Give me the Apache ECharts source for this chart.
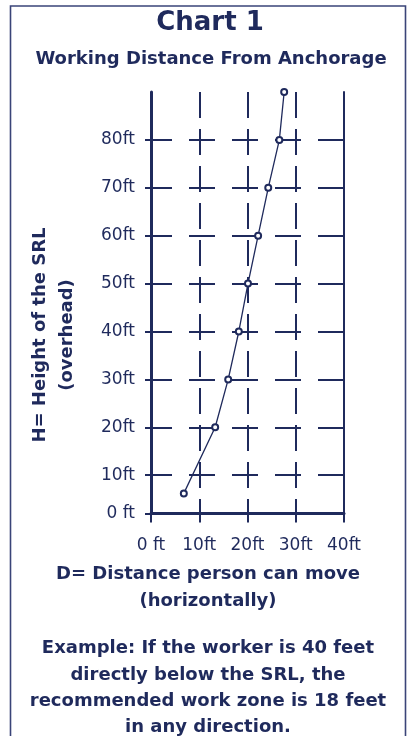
<!DOCTYPE html>
<html>
<head>
<meta charset="utf-8">
<script src="https://cdn.jsdelivr.net/npm/echarts@6/dist/echarts.min.js"></script>
<style>
html,body{margin:0;padding:0;background:#fff;}
#chart{width:409px;height:736px;}
</style>
</head>
<body>
<div id="chart"></div>
<script>
// Data
const distanceFt = [6.8, 13.3, 16.0, 18.2, 20.1, 22.2, 24.3, 26.6, 27.6];
const heightFt   = [6.2, 20, 30, 40, 50, 60, 70, 80, 90];
const xTickValues = [0, 10, 20, 30, 40];
const xTickLabels = ['0 ft', '10ft', '20ft', '30ft', '40ft'];
const yTickValues = [2, 10, 20, 30, 40, 50, 60, 70, 80];
const yTickLabels = ['0 ft', '10ft', '20ft', '30ft', '40ft', '50ft', '60ft', '70ft', '80ft'];

const NAVY = '#1f2a5c';
const FONT = '"DejaVu Sans", sans-serif';

const chart = echarts.init(document.getElementById('chart'), null, {renderer: 'canvas'});

function txt(text, x, y, size, bold, rot) {
  return {
    type: 'text', x: x, y: y, rotation: rot || 0, z: 10,
    style: {
      text: text, fill: NAVY,
      font: (bold ? 'bold ' : '') + size + 'px ' + FONT,
      textAlign: 'center', textVerticalAlign: 'middle',
      align: 'center', verticalAlign: 'middle'
    }
  };
}

const option = {
  backgroundColor: '#fff',
  animation: false,
  grid: {left: 151, right: 65, top: 92, bottom: 222.5, containLabel: false},
  xAxis: {
    type: 'value', min: 0, max: 40, interval: 10,
    axisLine: {show: true, onZero: false, lineStyle: {color: NAVY, width: 3}},
    axisTick: {show: true, length: 9, inside: false, lineStyle: {color: NAVY, width: 2}},
    axisLabel: {
      margin: 24, color: NAVY, fontSize: 17, fontFamily: FONT,
      formatter: function (v) { return xTickLabels[xTickValues.indexOf(v)]; }
    },
    splitLine: {show: true, lineStyle: {color: NAVY, width: 2, type: [26, 11], dashOffset: 0}}
  },
  yAxis: [{
    type: 'value', min: 2, max: 90,
    axisLine: {show: true, onZero: false, lineStyle: {color: NAVY, width: 3}},
    axisTick: {show: true, length: 6, customValues: yTickValues, lineStyle: {color: NAVY, width: 2}},
    axisLabel: {
      margin: 16, color: NAVY, fontSize: 17, fontFamily: FONT,
      customValues: yTickValues,
      formatter: function (v) { return yTickLabels[yTickValues.indexOf(v)]; }
    },
    splitLine: {show: true, lineStyle: {color: NAVY, width: 2, type: [26, 17], dashOffset: 5}}
  }, {
    type: 'value', min: 2, max: 90, position: 'right',
    axisLine: {show: true, onZero: false, lineStyle: {color: NAVY, width: 2}},
    axisTick: {show: false}, axisLabel: {show: false}, splitLine: {show: false}
  }],
  series: [{
    type: 'line',
    data: distanceFt.map(function (d, i) { return [d, heightFt[i]]; }),
    symbol: 'emptyCircle', symbolSize: 6, clip: false, z: 5,
    lineStyle: {color: NAVY, width: 1.3},
    itemStyle: {color: NAVY, borderColor: NAVY, borderWidth: 1.2}
  }],
  graphic: [
    {type: 'rect', shape: {x: 10.5, y: 6, width: 395, height: 740}, z: 0,
     style: {fill: 'none', stroke: '#3a4478', lineWidth: 1.6}},
    txt('Chart 1', 210, 23, 26, true),
    txt('Working Distance From Anchorage', 211, 59, 18, true),
    txt('H= Height of the SRL', 40, 335, 18, true, Math.PI / 2),
    txt('(overhead)', 67, 335, 18, true, Math.PI / 2),
    txt('D= Distance person can move', 208, 574, 18, true),
    txt('(horizontally)', 208, 601, 18, true),
    txt('Example: If the worker is 40 feet', 208, 648, 18, true),
    txt('directly below the SRL, the', 208, 675, 18, true),
    txt('recommended work zone is 18 feet', 208, 701, 18, true),
    txt('in any direction.', 208, 727, 18, true)
  ]
};
chart.setOption(option);
</script>
</body>
</html>
